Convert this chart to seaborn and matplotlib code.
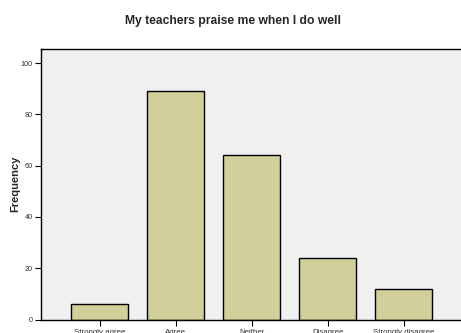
import matplotlib
matplotlib.use("Agg")
import matplotlib.pyplot as plt
import seaborn as sns
import pandas as pd

responses = ["Strongly agree", "Agree", "Neither", "Disagree", "Strongly disagree"]
frequency = [6, 89, 64, 24, 12]
y_ticks = [0, 20, 40, 60, 80, 100]

df = pd.DataFrame({"response": responses, "frequency": frequency})

sns.set_style("ticks")
plt.rcParams["font.family"] = ["Liberation Sans", "DejaVu Sans"]

fig = plt.figure(figsize=(4.61, 3.33), dpi=100)
ax = fig.add_axes([41 / 461, (333 - 319.5) / 333, 1 - 41 / 461, (319.5 - 49) / 333])
ax.set_facecolor("#f0f0f0")

sns.barplot(data=df, x="response", y="frequency", order=responses,
            color="#d2d09a", saturation=1, width=0.75,
            edgecolor="black", linewidth=1.0, ax=ax)

ax.set_xlim(-0.776, 4.75)
ax.set_ylim(0, 105.5)
ax.set_yticks(y_ticks)
ax.set_yticklabels([str(t) for t in y_ticks], fontsize=5.2, color="#333333")
ax.set_xticks(range(len(responses)))
ax.set_xticklabels(responses, fontsize=5.7, color="#333333")
ax.tick_params(axis="both", direction="out", length=4.5, width=0.8, color="black")
ax.tick_params(axis="y", pad=1.5)
ax.tick_params(axis="x", pad=2.5)

ax.set_xlabel("")
ax.set_ylabel("Frequency", fontsize=8, fontweight="bold")
ax.yaxis.set_label_coords((20 - 41) / 420, 0.5)

for side in ["top", "left", "bottom"]:
    ax.spines[side].set_visible(True)
    ax.spines[side].set_color("black")
    ax.spines[side].set_linewidth(1.0)
ax.spines["right"].set_visible(False)

fig.text(233 / 461, 1 - 21 / 333,
         "My teachers praise me when I do well",
         ha="center", va="center", fontsize=8.7, fontweight="bold")

fig.savefig("out.png", dpi=100, facecolor="white")
